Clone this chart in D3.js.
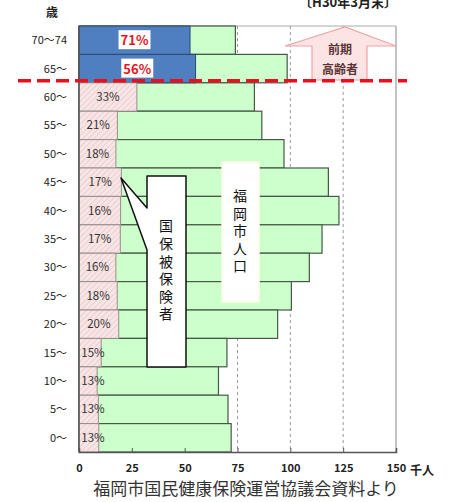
<!DOCTYPE html>
<html>
<head>
<meta charset="utf-8">
<script src="https://cdn.jsdelivr.net/npm/d3@7"></script>
<style>
	body{ margin:0; background:#fff; }
	text{ font-family:"Noto Sans CJK JP","Noto Sans",sans-serif; }
	.vert{ writing-mode:vertical-rl; text-orientation:upright; }
</style>
</head>
<body>
<svg id="chart" width="457" height="502"></svg>
<script>
// age groups, top to bottom
let ages = ["70〜74","65〜","60〜","55〜","50〜","45〜","40〜","35〜","30〜","25〜","20〜","15〜","10〜","5〜","0〜"]
// 福岡市人口 (千人)
let population = [74,98.5,83,86.5,97,118,123,115,109,100.5,94,70,66,70.5,72]
// 国保加入率 (%)
let ratio = [71,56,33,21,18,17,16,17,16,18,20,15,13,13,13]
let xTicks = [0,25,50,75,100,125,150]
let gridTicks = [75,100,125]

let rows = ages.map((a,i)=>({ age:a, pop:population[i], pct:ratio[i], elder: i < 2 }))

let svg = d3.select('#chart')
let x = d3.scaleLinear().domain([0,150]).range([79,396])
let y = d3.scaleBand().domain(ages).range([26,452]).padding(0)

// hatch for the pink part
let defs = svg.append('defs')
let pat = defs.append('pattern')
	.attr('id','hatch')
	.attr('width',4).attr('height',4)
	.attr('patternUnits','userSpaceOnUse')
	.attr('patternTransform','rotate(45)')
pat.append('rect').attr('width',4).attr('height',4).attr('fill','#f8e6e6')
pat.append('line').attr('x1',0).attr('y1',0).attr('x2',0).attr('y2',4)
	.attr('stroke','#e2b4b4').attr('stroke-width',1)

// grid + frame
svg.append('g').selectAll('line')
	.data(gridTicks).join('line')
	.attr('x1',d=>x(d)).attr('x2',d=>x(d))
	.attr('y1',y.range()[0]).attr('y2',y.range()[1])
	.attr('stroke','#9a9a9a').attr('stroke-dasharray','3,3')
svg.append('line')
	.attr('x1',x(0)).attr('x2',x(150)).attr('y1',y.range()[0]).attr('y2',y.range()[0])
	.attr('stroke','#aaa')
svg.append('line')
	.attr('x1',x(150)).attr('x2',x(150)).attr('y1',y.range()[0]).attr('y2',y.range()[1])
	.attr('stroke','#999').attr('stroke-width',1.2)

// population bars
svg.append('g').selectAll('rect')
	.data(rows).join('rect')
	.attr('x',x(0)).attr('y',d=>y(d.age))
	.attr('width',d=>x(d.pop)-x(0)).attr('height',y.bandwidth())
	.attr('fill','#ccffcc').attr('stroke','#465846').attr('stroke-width',1.2)

// insured part
svg.append('g').selectAll('rect')
	.data(rows).join('rect')
	.attr('x',x(0)).attr('y',d=>y(d.age))
	.attr('width',d=>x(d.pop*d.pct/100)-x(0)).attr('height',y.bandwidth())
	.attr('fill',d=> d.elder ? '#4f7fbf' : 'url(#hatch)')
	.attr('stroke',d=> d.elder ? '#2c4a74' : '#9a8c8c').attr('stroke-width',1)

// axes
svg.append('line')
	.attr('x1',x(0)).attr('x2',x(0)).attr('y1',y.range()[0]).attr('y2',y.range()[1])
	.attr('stroke','#555').attr('stroke-width',1.5)
let xAxis = svg.append('g')
	.attr('transform','translate(0,'+y.range()[1]+')')
	.call(d3.axisBottom(x).tickValues(xTicks).tickSize(-4).tickPadding(12))
xAxis.select('.domain').attr('stroke','#555').attr('stroke-width',1.5)
xAxis.selectAll('.tick line').attr('stroke','#555')
xAxis.selectAll('text').attr('font-size',11).attr('font-weight','bold').attr('fill','#222')
svg.append('text')
	.attr('x',x(150)+14).attr('y',y.range()[1]+23)
	.attr('font-size',12).attr('font-weight','bold').attr('fill','#222')
	.text('千人')

// age labels
svg.append('g').selectAll('text')
	.data(rows).join('text')
	.attr('x',67).attr('y',d=>y(d.age)+y.bandwidth()/2+4)
	.attr('text-anchor','end').attr('font-size',11).attr('fill','#222')
	.text(d=>d.age)
svg.append('text')
	.attr('x',52).attr('y',17).attr('text-anchor','middle')
	.attr('font-size',12).attr('font-weight','bold').attr('fill','#222')
	.text('歳')

// pct labels
let young = rows.filter(d=>!d.elder)
svg.append('g').selectAll('text')
	.data(young).join('text')
	.attr('x',d=> Math.max((x(0)+x(d.pop*d.pct/100))/2, 93))
	.attr('y',d=>y(d.age)+y.bandwidth()/2+4)
	.attr('text-anchor','middle').attr('font-size',11.5).attr('fill','#333')
	.text(d=>d.pct+'%')

let elder = rows.filter(d=>d.elder)
let eg = svg.append('g').selectAll('g')
	.data(elder).join('g')
	.attr('transform',d=>'translate('+((x(0)+x(d.pop*d.pct/100))/2)+','+(y(d.age)+y.bandwidth()/2)+')')
eg.append('rect')
	.attr('x',-16).attr('y',-10).attr('width',32).attr('height',19).attr('fill','#fff')
eg.append('text')
	.attr('y',5).attr('text-anchor','middle')
	.attr('font-size',13).attr('font-weight','bold').attr('fill','#e8141c')
	.text(d=>d.pct+'%')

// 前期高齢者 arrow (annotation shape)
svg.append('path')
	.attr('d','M285,46 L345,27 L396,46 L367,46 L367,80 L312,80 L312,46 Z')
	.attr('fill','#fde4e4').attr('stroke','#f0a4a4').attr('stroke-width',1.2)
svg.append('text')
	.attr('x',340).attr('y',54).attr('text-anchor','middle')
	.attr('font-size',12).attr('font-weight','bold').attr('fill','#5a3434')
	.text('前期')
svg.append('text')
	.attr('x',340).attr('y',74).attr('text-anchor','middle')
	.attr('font-size',12).attr('font-weight','bold').attr('fill','#5a3434')
	.text('高齢者')

// 65 line
svg.append('line')
	.attr('x1',18).attr('x2',407)
	.attr('y1',y(ages[2])-2).attr('y2',y(ages[2])-2)
	.attr('stroke','#e8101c').attr('stroke-width',3.5).attr('stroke-dasharray','13,6')

// 福岡市人口 box
svg.append('rect')
	.attr('x',222).attr('y',162).attr('width',37).attr('height',140)
	.attr('fill','#fff').attr('stroke','#fbfbe0').attr('stroke-width',1.5)
svg.append('text')
	.attr('class','vert')
	.attr('x',240).attr('y',189)
	.attr('font-size',14).attr('fill','#111')
	.attr('letter-spacing',3.5)
	.text('福岡市人口')

// 国保被保険者 callout
svg.append('path')
	.attr('d','M147,176 H186 V367 H147 V250 L121,178 L147,208 Z')
	.attr('fill','#fff').attr('stroke','#111').attr('stroke-width',1.5)
	.attr('stroke-linejoin','round')
svg.append('text')
	.attr('class','vert')
	.attr('x',166).attr('y',219)
	.attr('font-size',14).attr('fill','#111')
	.attr('letter-spacing',3.6)
	.text('国保被保険者')

// header / footer
svg.append('text')
	.attr('x',348).attr('y',7).attr('text-anchor','middle')
	.attr('font-size',13).attr('font-weight','bold').attr('fill','#222')
	.text('〔H30年3月末〕')
svg.append('text')
	.attr('x',246).attr('y',495).attr('text-anchor','middle')
	.attr('font-size',17).attr('fill','#333')
	.text('福岡市国民健康保険運営協議会資料より')
</script>
</body>
</html>
